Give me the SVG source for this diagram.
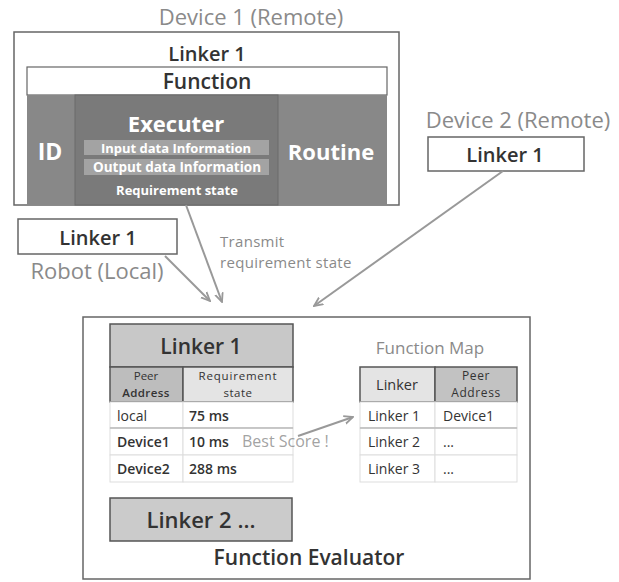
<svg xmlns="http://www.w3.org/2000/svg" width="619" height="582" viewBox="0 0 619 582">
<defs>
<style>
text{font-family:"Open Sans","Noto Sans","Liberation Sans",sans-serif;}
.t{fill:#333;}
.g{fill:#8a8a8a;}
.w{fill:#fff;font-weight:bold;}
.box{fill:#fff;stroke:#666;stroke-width:1.5;}
.cell{fill:#fff;stroke:#ddd;stroke-width:1;}
.hd{stroke:#555;stroke-width:1.5;}
.conn{stroke:#999;stroke-width:2;fill:none;}
</style>
<marker id="ah" viewBox="0 0 10 10" refX="9" refY="5" markerWidth="10" markerHeight="10" orient="auto" markerUnits="userSpaceOnUse">
<path d="M0,1 L9,5 L0,9" fill="none" stroke="#999" stroke-width="1.8"/>
</marker>
</defs>
<rect width="619" height="582" fill="#fff"/>

<g id="device1">
<text x="251" y="25" font-size="22" text-anchor="middle" class="g">Device 1 (Remote)</text>
<rect x="14" y="32" width="385" height="173" class="box"/>
<text x="207" y="61" font-size="20" text-anchor="middle" class="t" font-weight="600">Linker 1</text>
<rect x="27" y="67" width="360" height="28" fill="#fff" stroke="#666" stroke-width="1.2"/>
<text x="207" y="89" font-size="21" text-anchor="middle" class="t" font-weight="600">Function</text>
<rect x="27" y="95" width="360" height="110" fill="#888"/>
<rect x="75" y="95" width="203" height="110" fill="#7a7a7a" stroke="#6a6a6a" stroke-width="1"/>
<text x="50" y="160" font-size="23" text-anchor="middle" class="w">ID</text>
<text x="176" y="132" font-size="22" text-anchor="middle" class="w">Executer</text>
<rect x="84" y="140" width="185" height="15" fill="#a3a3a3"/>
<text x="176" y="152.5" font-size="13" text-anchor="middle" class="w">Input data Information</text>
<rect x="84" y="159" width="185" height="16" fill="#a3a3a3"/>
<text x="177" y="172" font-size="13.5" text-anchor="middle" class="w">Output data Information</text>
<text x="177" y="195" font-size="13" text-anchor="middle" class="w">Requirement state</text>
<text x="331" y="160" font-size="22" text-anchor="middle" class="w">Routine</text>
</g>

<g id="device2">
<text x="518" y="128" font-size="22" text-anchor="middle" class="g">Device 2 (Remote)</text>
<rect x="428" y="137" width="156" height="34" class="box"/>
<text x="505" y="162" font-size="20" text-anchor="middle" class="t" font-weight="600">Linker 1</text>
</g>

<g id="robot">
<rect x="18" y="219" width="159" height="35" class="box"/>
<text x="98" y="245" font-size="20" text-anchor="middle" class="t" font-weight="600">Linker 1</text>
<text x="97" y="279" font-size="22" text-anchor="middle" class="g">Robot (Local)</text>
</g>

<g id="transmit-label">
<text x="220" y="247" font-size="15" class="g" letter-spacing="0.3">Transmit</text>
<text x="220" y="268" font-size="15" class="g" letter-spacing="0.3">requirement state</text>
</g>

<g id="evaluator">
<rect x="83" y="317" width="447" height="262" class="box"/>
<rect x="110" y="324" width="183" height="43" fill="#c8c8c8" class="hd"/>
<text x="201" y="354" font-size="21" text-anchor="middle" class="t" font-weight="600">Linker 1</text>
<rect x="110" y="367" width="73" height="35" fill="#bdbdbd" class="hd"/>
<rect x="183" y="367" width="110" height="35" fill="#e4e4e4" class="hd"/>
<text x="146" y="380" font-size="11.5" text-anchor="middle" class="t">Peer</text>
<text x="146" y="397" font-size="11.5" text-anchor="middle" class="t" font-weight="600" letter-spacing="0.4">Address</text>
<text x="238" y="380" font-size="11.5" text-anchor="middle" class="t" letter-spacing="0.8">Requirement</text>
<text x="238" y="397" font-size="11.5" text-anchor="middle" class="t" letter-spacing="0.5">state</text>
<rect x="110" y="402" width="73" height="26" class="cell"/>
<rect x="183" y="402" width="110" height="26" class="cell"/>
<rect x="110" y="428" width="73" height="27" class="cell"/>
<rect x="183" y="428" width="110" height="27" class="cell"/>
<rect x="110" y="455" width="73" height="27" class="cell"/>
<rect x="183" y="455" width="110" height="27" class="cell"/>
<line x1="110" y1="428" x2="293" y2="428" stroke="#bbb" stroke-width="1.5"/>
<text x="117" y="421" font-size="14" class="t">local</text>
<text x="189" y="421" font-size="14" class="t" font-weight="600">75 ms</text>
<text x="117" y="447" font-size="14" class="t" font-weight="600">Device1</text>
<text x="189" y="447" font-size="14" class="t" font-weight="600">10 ms</text>
<text x="117" y="474" font-size="14" class="t" font-weight="600">Device2</text>
<text x="189" y="474" font-size="14" class="t" font-weight="600">288 ms</text>
<text x="242" y="447" font-size="16" class="g" fill-opacity="0.8">Best Score !</text>

<rect x="110" y="498" width="182" height="43" fill="#cbcbcb" class="hd"/>
<text x="201" y="528" font-size="22" text-anchor="middle" class="t" font-weight="600">Linker 2 ...</text>
<text x="309" y="565" font-size="21" text-anchor="middle" class="t" font-weight="600">Function Evaluator</text>

<text x="430" y="354" font-size="17" text-anchor="middle" class="g">Function Map</text>
<rect x="360" y="367" width="75" height="35" fill="#e4e4e4" class="hd"/>
<rect x="435" y="367" width="82" height="35" fill="#c2c2c2" class="hd"/>
<text x="397" y="390" font-size="14.5" text-anchor="middle" class="t">Linker</text>
<text x="476" y="380" font-size="12" text-anchor="middle" class="t" letter-spacing="0.6">Peer</text>
<text x="476" y="397" font-size="12" text-anchor="middle" class="t" letter-spacing="0.6">Address</text>
<rect x="360" y="402" width="75" height="26" class="cell"/>
<rect x="435" y="402" width="82" height="26" class="cell"/>
<rect x="360" y="428" width="75" height="27" class="cell"/>
<rect x="435" y="428" width="82" height="27" class="cell"/>
<rect x="360" y="455" width="75" height="27" class="cell"/>
<rect x="435" y="455" width="82" height="27" class="cell"/>
<line x1="360" y1="428" x2="517" y2="428" stroke="#bbb" stroke-width="1.5"/>
<text x="368" y="421" font-size="14" class="t">Linker 1</text>
<text x="443" y="421" font-size="14" class="t">Device1</text>
<text x="368" y="447" font-size="14" class="t">Linker 2</text>
<text x="443" y="447" font-size="14" class="t">...</text>
<text x="368" y="474" font-size="14" class="t">Linker 3</text>
<text x="443" y="474" font-size="14" class="t">...</text>
</g>

<g id="connectors">
<line x1="186" y1="205" x2="222" y2="302" class="conn" marker-end="url(#ah)"/>
<line x1="165" y1="256" x2="210" y2="301" class="conn" marker-end="url(#ah)"/>
<line x1="503" y1="171" x2="314" y2="306" class="conn" marker-end="url(#ah)"/>
<line x1="298" y1="436" x2="353" y2="417" class="conn" stroke-width="1.5" marker-end="url(#ah)"/>
</g>
</svg>
